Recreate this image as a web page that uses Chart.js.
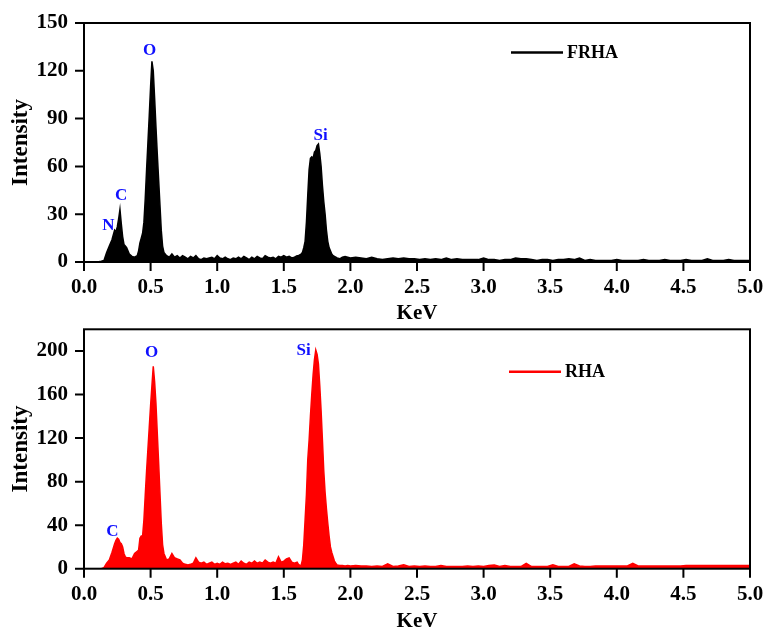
<!DOCTYPE html>
<html>
<head>
<meta charset="utf-8">
<script src="https://cdn.jsdelivr.net/npm/chart.js@4.4.1/dist/chart.umd.min.js"></script>
<style>
  html, body { margin: 0; padding: 0; background: #fff; overflow: hidden; }
  #top { position: absolute; left: 0; top: 0; }
  #bottom { position: absolute; left: 0; top: 326px; }
</style>
</head>
<body>
<canvas id="top" width="764" height="326"></canvas>
<canvas id="bottom" width="764" height="308"></canvas>
<script>
// energy axis (KeV), finer steps around the peaks
var energy = [
  0, 0.05, 0.10, 0.13, 0.15, 0.17, 0.19, 0.21, 0.23, 0.24,
  0.25, 0.26, 0.27, 0.28, 0.29, 0.30, 0.31, 0.32, 0.34, 0.36,
  0.38, 0.40, 0.41, 0.42, 0.43, 0.44, 0.45, 0.46, 0.47, 0.48,
  0.49, 0.50, 0.51, 0.52, 0.53, 0.54, 0.55, 0.56, 0.57, 0.58,
  0.59, 0.60,
  0.62, 0.64, 0.66, 0.68, 0.70, 0.72, 0.74, 0.76, 0.78, 0.80,
  0.82, 0.84, 0.86, 0.88, 0.90, 0.92, 0.94, 0.96, 0.98, 1.00,
  1.02, 1.04, 1.06, 1.08, 1.10, 1.12, 1.14, 1.16, 1.18, 1.20,
  1.22, 1.24, 1.26, 1.28, 1.30, 1.32, 1.34, 1.36, 1.38, 1.40,
  1.42, 1.44, 1.46, 1.48, 1.50, 1.52, 1.54, 1.56, 1.58, 1.60,
  1.61, 1.62, 1.63, 1.64, 1.65, 1.66, 1.67, 1.68, 1.69, 1.70,
  1.71, 1.72, 1.73, 1.74, 1.75, 1.76, 1.77, 1.78, 1.79, 1.80,
  1.81, 1.82, 1.83, 1.84, 1.85, 1.86, 1.87, 1.88, 1.89, 1.90,
  1.92, 1.94, 1.96, 1.98, 2.00,
  2.04, 2.08, 2.12, 2.16, 2.20, 2.24, 2.28, 2.32, 2.36, 2.40,
  2.44, 2.48, 2.52, 2.56, 2.60, 2.64, 2.68, 2.72, 2.76, 2.80,
  2.84, 2.88, 2.92, 2.96, 3.00, 3.04, 3.08, 3.12, 3.16, 3.20,
  3.24, 3.28, 3.32, 3.36, 3.40, 3.44, 3.48, 3.52, 3.56, 3.60,
  3.64, 3.68, 3.72, 3.76, 3.80, 3.84, 3.88, 3.92, 3.96, 4.00,
  4.04, 4.08, 4.12, 4.16, 4.20, 4.24, 4.28, 4.32, 4.36, 4.40,
  4.44, 4.48, 4.52, 4.56, 4.60, 4.64, 4.68, 4.72, 4.76, 4.80,
  4.84, 4.88, 4.92, 4.96, 5.00
];

var frha = [
  0, 0, 0, 0.5, 1, 6, 10, 14, 20, 19,
  22, 27, 33, 24, 16, 11, 10, 9, 5, 3.5,
  3, 4, 7, 12, 15, 18, 25, 40, 58, 75,
  92, 110, 126, 120, 103, 85, 68, 52, 36, 20,
  10, 6,
  4, 3, 5, 3, 4, 2.5, 4, 3, 2, 3.5,
  2.5, 4, 2, 1.5, 2.5, 2, 2.5, 3, 2, 4,
  2.5, 2, 3, 2, 1.5, 2.5, 2, 3, 2, 3.5,
  2.5, 1.5, 3, 2, 3.5, 2.5, 2, 4, 3, 2.5,
  3, 2, 3.5, 3, 4, 3, 3.5, 2.5, 3, 4,
  4, 4.5, 5, 6, 9, 13, 25, 42, 58, 65,
  66, 65, 69, 70, 73, 74, 68, 60, 48, 38,
  30, 20, 13, 9, 7, 5, 4, 3.5, 3, 2.5,
  2, 3, 3.5, 3, 2.5,
  3, 2.5, 2, 3, 2, 1.5, 2, 2.5, 2, 2.5,
  2, 2, 1.5, 2, 1.5, 2, 1.5, 2.5, 1.5, 2,
  1.5, 1.5, 1.5, 1.5, 2.5, 1.5, 1.5, 1, 1.5, 1.5,
  2.5, 2, 2, 1.5, 1, 1.5, 1.5, 1, 1.5, 1.5,
  2, 1.5, 2.5, 1, 1.5, 1, 1, 1, 1, 1.5,
  1, 1, 1, 1, 1.5, 1, 1, 1, 1.5, 1,
  1, 1, 1.5, 1, 1, 1, 2, 1, 1, 1,
  1.5, 1, 1, 1, 1
];

var rha = [
  0, 0, 0, 0, 1, 5, 8, 15, 23, 26,
  28, 27, 24, 23, 20, 14, 11, 10, 10, 9,
  14, 16, 17, 28, 30, 30, 45, 68, 90, 110,
  130, 150, 168, 186, 172, 152, 125, 98, 70, 42,
  22, 14,
  8, 9, 14, 10, 9, 8, 5, 4, 3.5, 4,
  5, 10, 6, 5, 6, 4, 5, 6, 4, 5,
  4, 6, 4.5, 5, 4, 5, 6, 4, 7, 5,
  4, 6, 5, 7, 5, 6, 5, 8, 6, 5,
  6, 5, 11, 6, 7, 9, 10, 6, 5, 6,
  4, 3, 3, 8, 22, 45, 68, 100, 118, 140,
  160, 178, 192, 201, 197, 188, 168, 145, 118, 90,
  70, 55, 42, 30, 20, 15, 11, 7, 5, 3.5,
  3, 3, 2.5, 3, 2.5,
  3, 2.5, 2.5, 2, 2.5, 2, 4.5, 2, 2.5, 3.5,
  2, 2.5, 2, 2.5, 2, 2, 3, 2, 2, 2,
  2, 2.5, 2, 2.5, 2, 3, 3.5, 2, 3, 2,
  2, 2, 5, 2, 2, 2, 2, 3.5, 2, 2,
  2, 4.5, 2.5, 2, 2, 2.5, 2.5, 2.5, 2.5, 2.5,
  2.5, 2.5, 5, 2.5, 2.5, 2.5, 2.5, 2.5, 2.5, 2.5,
  2.5, 2.5, 3, 3, 3, 3, 3, 3, 3, 3,
  3, 3, 3, 3, 3
];

// element labels, placed in data units (KeV, intensity)
var topPeakNames = ['N', 'C', 'O', 'Si'];
var topPeakEnergy = [0.184, 0.278, 0.492, 1.776];
var topPeakHeight = [23, 41.5, 132.5, 79.5];

var botPeakNames = ['C', 'O', 'Si'];
var botPeakEnergy = [0.214, 0.507, 1.648];
var botPeakHeight = [34.5, 199, 200];

var serif = '"Liberation Serif", "Times New Roman", serif';
Chart.defaults.font.family = serif;
Chart.defaults.color = '#000';

function isMajor(v, step) {
  return Math.abs(v / step - Math.round(v / step)) < 1e-6;
}

function noPadding(s) {
  s.paddingTop = 0; s.paddingBottom = 0; s.paddingLeft = 0; s.paddingRight = 0;
}

// frame, major/minor ticks, element labels and legend
var decor = {
  id: 'decor',
  afterDraw: function(chart, args, opts) {
    var ctx = chart.ctx, a = chart.chartArea;
    var x = chart.scales.x, y = chart.scales.y;
    var ds = chart.data.datasets[0];
    ctx.save();
    ctx.strokeStyle = '#000';
    ctx.lineWidth = 2;
    ctx.strokeRect(a.left, a.top, a.right - a.left, a.bottom - a.top);
    ctx.beginPath();
    x.ticks.forEach(function(t) {
      var px = x.getPixelForValue(t.value);
      ctx.moveTo(px, a.bottom);
      ctx.lineTo(px, a.bottom + (t.label ? 9 : 5));
    });
    y.ticks.forEach(function(t) {
      var py = y.getPixelForValue(t.value);
      ctx.moveTo(a.left, py);
      ctx.lineTo(a.left - (t.label ? 9 : 5), py);
    });
    ctx.stroke();

    ctx.fillStyle = '#1010ff';
    ctx.font = 'bold 17px ' + serif;
    ctx.textAlign = 'center';
    ctx.textBaseline = 'middle';
    opts.names.forEach(function(n, i) {
      ctx.fillText(n, x.getPixelForValue(opts.energy[i]), y.getPixelForValue(opts.height[i]));
    });

    var lx = a.left + opts.legendX, ly = a.top + opts.legendY;
    ctx.strokeStyle = ds.borderColor;
    ctx.lineWidth = 2.5;
    ctx.beginPath();
    ctx.moveTo(lx, ly);
    ctx.lineTo(lx + 52, ly);
    ctx.stroke();
    ctx.fillStyle = '#000';
    ctx.font = 'bold 18px ' + serif;
    ctx.textAlign = 'left';
    ctx.fillText(ds.label, lx + 56, ly + 1);
    ctx.restore();
  }
};

function makeChart(id, name, values, color, yMax, yStep, yMajor, padTop, xHeight, names, energies, heights, legendX, legendY) {
  var pts = energy.map(function(e, i) { return {x: e, y: values[i]}; });
  return new Chart(document.getElementById(id), {
    type: 'line',
    data: {
      datasets: [{
        label: name,
        data: pts,
        borderColor: color,
        backgroundColor: color,
        borderWidth: 1.5,
        pointRadius: 0,
        tension: 0,
        fill: 'origin'
      }]
    },
    options: {
      responsive: false,
      animation: false,
      layout: { padding: { left: 0, right: 14, top: padTop, bottom: 0 } },
      plugins: {
        legend: { display: false },
        tooltip: { enabled: false },
        decor: { names: names, energy: energies, height: heights, legendX: legendX, legendY: legendY }
      },
      scales: {
        x: {
          type: 'linear',
          min: 0, max: 5,
          grid: { display: false, drawTicks: false },
          border: { display: false },
          ticks: {
            stepSize: 0.25,
            autoSkip: false,
            maxRotation: 0,
            padding: 13,
            font: { size: 21, weight: 'bold' },
            callback: function(v) { return isMajor(v, 0.5) ? v.toFixed(1) : null; }
          },
          title: { display: true, text: 'KeV', font: { size: 21, weight: 'bold' }, padding: { top: 0, bottom: 0 } },
          afterFit: function(s) { s.height = xHeight; noPadding(s); }
        },
        y: {
          min: 0, max: yMax,
          grid: { display: false, drawTicks: false },
          border: { display: false },
          ticks: {
            stepSize: yStep,
            autoSkip: false,
            padding: 16,
            font: { size: 21, weight: 'bold' },
            callback: function(v) { return isMajor(v, yMajor) ? String(v) : null; }
          },
          title: { display: true, text: 'Intensity', font: { size: 23, weight: 'bold' }, padding: { top: 7, bottom: 0 } },
          afterFit: function(s) { s.width = 84; noPadding(s); }
        }
      }
    },
    plugins: [decor]
  });
}

makeChart('top', 'FRHA', frha, '#000000', 150, 15, 30, 23, 64,
  topPeakNames, topPeakEnergy, topPeakHeight, 427, 29.6);
makeChart('bottom', 'RHA', rha, '#ff0000', 220, 20, 40, 3.3, 65.3,
  botPeakNames, botPeakEnergy, botPeakHeight, 425, 42.4);
</script>
</body>
</html>
